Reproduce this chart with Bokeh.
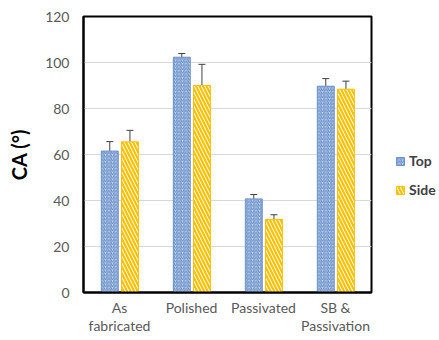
from bokeh.plotting import figure
from bokeh.models import ColumnDataSource, Whisker, Legend, LegendItem, FactorRange
from bokeh.transform import dodge
from bokeh.embed import file_html
from bokeh.resources import INLINE

categories = ["As\nfabricated", "Polished", "Passivated", "SB &\nPassivation"]
top_vals = [61.5, 102.3, 40.7, 89.7]
top_err = [4.1, 1.6, 1.9, 3.3]
side_vals = [65.5, 90.0, 31.8, 88.4]
side_err = [5.0, 9.2, 2.0, 3.5]
y_ticks = [0, 20, 40, 60, 80, 100, 120]

src = ColumnDataSource(dict(
    cat=categories,
    top=top_vals,
    top_lo=[v - e for v, e in zip(top_vals, top_err)],
    top_hi=[v + e for v, e in zip(top_vals, top_err)],
    side=side_vals,
    side_lo=[v - e for v, e in zip(side_vals, side_err)],
    side_hi=[v + e for v, e in zip(side_vals, side_err)],
))

FONT = "Lato"

p = figure(x_range=FactorRange(*categories, range_padding=0), y_range=(0, 120),
           frame_width=288, frame_height=276, output_backend="svg", toolbar_location=None,
           min_border_left=83, min_border_right=0, min_border_top=16, min_border_bottom=46)

p.outline_line_color = "black"
p.outline_line_width = 2
p.background_fill_color = "white"
p.border_fill_color = "white"

r_top = p.vbar(x=dodge("cat", -0.135, range=p.x_range), top="top", width=0.235, source=src,
               fill_color="#c9d8ee", line_color="#6a92cd", line_width=1,
               hatch_pattern="right_diagonal_line", hatch_color="#5f88c6",
               hatch_scale=3.5, hatch_weight=1)
r_side = p.vbar(x=dodge("cat", 0.145, range=p.x_range), top="side", width=0.235, source=src,
                fill_color="white", line_color="#ffc000", line_width=1,
                hatch_pattern="left_diagonal_line", hatch_color="#ffc000",
                hatch_scale=7, hatch_weight=2.2)

for base, lo, hi in ((-0.135, "top_lo", "top_hi"), (0.145, "side_lo", "side_hi")):
    w = Whisker(base=dodge("cat", base, range=p.x_range), lower=lo, upper=hi, source=src,
                line_color="#404040", line_width=1)
    w.upper_head.size = 7
    w.lower_head.size = 7
    w.upper_head.line_color = "#404040"
    w.lower_head.line_color = "#404040"
    p.add_layout(w)

p.xgrid.grid_line_color = None
p.ygrid.grid_line_color = "#d9d9d9"
p.ygrid.grid_line_width = 1
p.yaxis.ticker = y_ticks

for ax in (p.xaxis[0], p.yaxis[0]):
    ax.axis_line_color = "black"
    ax.axis_line_width = 2
    ax.major_tick_line_color = None
    ax.minor_tick_line_color = None
    ax.major_tick_out = 0
    ax.major_tick_in = 0
    ax.major_label_text_font = FONT
    ax.major_label_text_color = "#595959"
    ax.major_label_text_font_size = "14px"

p.yaxis.major_label_standoff = 14
p.yaxis.axis_label = "CA (°)"
p.yaxis.axis_label_text_font = FONT
p.yaxis.axis_label_text_font_size = "20px"
p.yaxis.axis_label_text_font_style = "bold"
p.yaxis.axis_label_text_color = "black"
p.yaxis.axis_label_standoff = 11

p.xaxis.major_label_standoff = 6
p.xaxis.major_label_text_line_height = 1.1

legend = Legend(items=[LegendItem(label="Top", renderers=[r_top]),
                       LegendItem(label="Side", renderers=[r_side])],
                location=(24, 94), orientation="vertical",
                glyph_width=10, glyph_height=10, label_height=10, spacing=12,
                padding=0, margin=0, label_standoff=4,
                label_text_font=FONT, label_text_font_size="14px",
                label_text_font_style="bold", label_text_color="#404040",
                border_line_color=None, background_fill_alpha=0)
p.add_layout(legend, "right")

open("out.html", "w").write(file_html(p, INLINE))
